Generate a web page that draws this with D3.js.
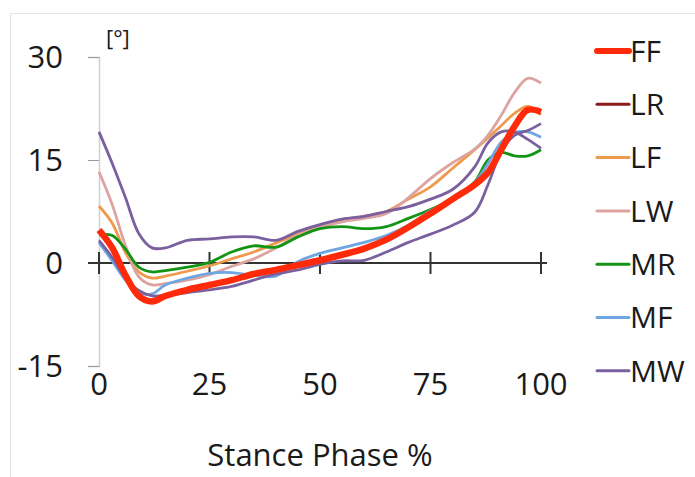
<!DOCTYPE html>
<html lang="en">
<head>
	<meta charset="utf-8">
	<title>Stance Phase angles</title>
	<script src="https://d3js.org/d3.v7.min.js"></script>
	<style>
		body { margin: 0; background: #fff; }
		text { font-family: "Open Sans", sans-serif; fill: #1a1a1a; }
	</style>
</head>
<body>
	<div id="chart"></div>
	<script>
		// stance phase (%) where each curve was read
		const phase = [0, 3, 6, 9, 12, 15, 20, 25, 30, 35, 40, 45, 50, 55, 60, 65, 70, 75, 80, 85, 88, 91, 94, 97, 100];

		// angle values [deg]
		const ffValues  = [4.8, 2.2, -1.8, -4.8, -5.6, -4.8, -3.9, -3.2, -2.5, -1.6, -1.0, -0.3, 0.4, 1.2, 2.1, 3.4, 5.2, 7.2, 9.3, 11.4, 13.2, 16.5, 19.9, 22.3, 22.0];
		const lfValues  = [8.3, 5.8, 1.5, -1.3, -2.2, -1.9, -1.2, -0.4, 0.6, 1.6, 2.9, 4.2, 5.3, 6.3, 6.8, 7.5, 9.3, 11.1, 13.8, 16.5, 18.2, 20.0, 21.8, 22.8, 21.6];
		const lwValues  = [13.3, 8.5, 2.5, -2.0, -3.2, -3.0, -2.5, -1.7, -0.5, 0.6, 2.2, 4.0, 5.2, 6.0, 6.5, 7.2, 9.5, 12.3, 14.6, 16.6, 18.6, 21.5, 24.8, 26.9, 26.2];
		const mrValues  = [4.1, 4.0, 2.0, -0.6, -1.3, -1.1, -0.6, 0.1, 1.6, 2.5, 2.3, 3.8, 5.0, 5.3, 5.0, 5.3, 6.5, 7.8, 9.3, 11.8, 15.0, 16.1, 15.6, 15.6, 16.5];
		const mfValues  = [3.0, 0.3, -2.5, -4.3, -4.5, -3.2, -2.2, -1.5, -1.4, -1.8, -1.9, 0.2, 1.4, 2.2, 3.0, 4.0, 5.5, 7.6, 9.2, 11.7, 14.5, 17.6, 19.0, 19.1, 18.3];
		const mwValues  = [19.1, 14.5, 9.5, 4.3, 2.2, 2.2, 3.3, 3.5, 3.8, 3.8, 3.3, 4.6, 5.6, 6.4, 6.8, 7.5, 8.2, 9.3, 10.7, 14.0, 17.5, 19.1, 19.1, 18.0, 16.7];
		const mw2Values = [3.3, 0.8, -2.2, -4.0, -4.8, -4.7, -4.3, -3.9, -3.4, -2.5, -1.6, -1.0, -0.2, 0.3, 0.4, 1.6, 3.0, 4.2, 5.5, 7.4, 11.4, 16.2, 18.6, 19.3, 20.3];

		const legendNames = ["FF", "LR", "LF", "LW", "MR", "MF", "MW"];
		const xTicks = [0, 25, 50, 75, 100];
		const yTicks = [-15, 0, 15, 30];

		const colors = {
			FF: "#ff2a0a", LR: "#8b1a1a", LF: "#ee9a4d", LW: "#dca3a0",
			MR: "#149414", MF: "#6ea6e2", MW: "#7b609f"
		};

		// drawing order: red FF last so it sits on top
		const series = [
			{ name: "LF", values: lfValues },
			{ name: "LW", values: lwValues },
			{ name: "MR", values: mrValues },
			{ name: "MF", values: mfValues },
			{ name: "MW", values: mw2Values },
			{ name: "MW", values: mwValues },
			{ name: "FF", values: ffValues }
		];

		const width = 695;
		const height = 477;

		const svg = d3.select("#chart")
			.append("svg")
			.attr("width", width)
			.attr("height", height);

		// faint outer frame
		svg.append("rect")
			.attr("x", 10.5).attr("y", 13.5)
			.attr("width", 720).attr("height", 500)
			.attr("fill", "none")
			.attr("stroke", "#e4e4e4");

		const x = d3.scaleLinear().domain([0, 100]).range([99, 541]);
		const y = d3.scaleLinear().domain([-15, 30]).range([366, 57]);

		// y axis (grey), labels drawn separately
		const yAxis = d3.axisLeft(y).tickValues(yTicks).tickSize(11).tickFormat("");
		const yg = svg.append("g")
			.attr("transform", "translate(" + x(0) + ",0)")
			.call(yAxis);
		yg.select(".domain").attr("stroke", "#d0d0d0").attr("stroke-width", 1.5);
		yg.selectAll(".tick line").attr("stroke", "#999");

		svg.selectAll("text.ylab")
			.data(yTicks)
			.enter()
			.append("text")
			.attr("class", "ylab")
			.attr("x", 63)
			.attr("y", function(d) { return y(d); })
			.attr("dy", "0.36em")
			.attr("text-anchor", "end")
			.style("font-size", "31px")
			.text(function(d) { return d; });

		// x axis sits on the zero line, ticks cross it
		const xg = svg.append("g").attr("transform", "translate(0," + y(0) + ")");
		xg.append("line")
			.attr("x1", 88).attr("x2", x(100) + 6)
			.attr("stroke", "#333").attr("stroke-width", 2);
		xg.selectAll("line.tk")
			.data(xTicks)
			.enter()
			.append("line")
			.attr("class", "tk")
			.attr("x1", function(d) { return x(d); })
			.attr("x2", function(d) { return x(d); })
			.attr("y1", -11).attr("y2", 11)
			.attr("stroke", "#333").attr("stroke-width", 2);

		svg.selectAll("text.xlab")
			.data(xTicks)
			.enter()
			.append("text")
			.attr("class", "xlab")
			.attr("x", function(d) { return x(d); })
			.attr("y", 395)
			.attr("text-anchor", "middle")
			.style("font-size", "31px")
			.text(function(d) { return d; });

		svg.append("text")
			.attr("x", x(50))
			.attr("y", 466)
			.attr("text-anchor", "middle")
			.style("font-size", "31px")
			.text("Stance Phase %");

		svg.append("text")
			.attr("x", 106)
			.attr("y", 46)
			.style("font-size", "22px")
			.text("[°]");

		// curves
		const line = d3.line()
			.x(function(d) { return x(d[0]); })
			.y(function(d) { return y(d[1]); })
			.curve(d3.curveCatmullRom.alpha(0.5));

		svg.selectAll("path.curve")
			.data(series)
			.enter()
			.append("path")
			.attr("class", "curve")
			.attr("fill", "none")
			.attr("stroke", function(d) { return colors[d.name]; })
			.attr("stroke-width", function(d) { return d.name === "FF" ? 6.5 : 2.8; })
			.attr("stroke-linejoin", "round")
			.attr("d", function(d) {
				return line(phase.map(function(p, i) { return [p, d.values[i]]; }));
			});

		// legend
		const legend = svg.selectAll("g.leg")
			.data(legendNames)
			.enter()
			.append("g")
			.attr("class", "leg")
			.attr("transform", function(d, i) { return "translate(597," + (51 + i * 53.3) + ")"; });
		legend.append("line")
			.attr("x1", 0).attr("x2", 32)
			.attr("stroke", function(d) { return colors[d]; })
			.attr("stroke-width", function(d) { return d === "FF" ? 6 : 3; })
			.attr("stroke-linecap", "round");
		legend.append("text")
			.attr("x", 33)
			.attr("dy", "0.36em")
			.style("font-size", "30px")
			.text(function(d) { return d; });
	</script>
</body>
</html>
